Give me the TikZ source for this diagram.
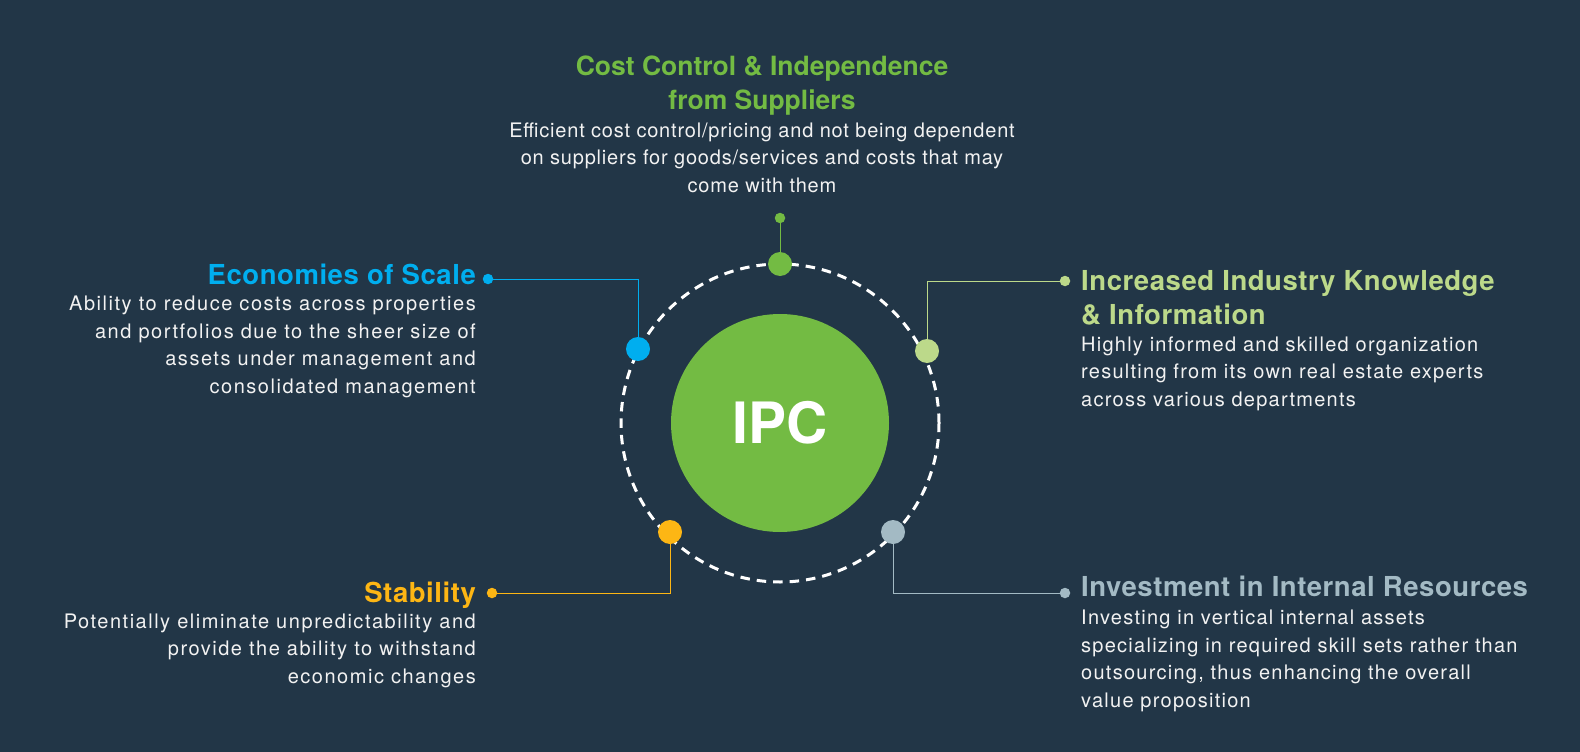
\documentclass[tikz,border=0pt]{standalone}
\usepackage{fontspec}
\setmainfont{TeX Gyre Heros}
\newfontfamily\bodyfont[LetterSpace=6.3]{TeX Gyre Heros}
\newfontfamily\leftfont[LetterSpace=7.6]{TeX Gyre Heros}
\newfontfamily\topfont[LetterSpace=4]{TeX Gyre Heros}
\newfontfamily\headfont[LetterSpace=2]{TeX Gyre Heros}
\usepackage{tikz}
\definecolor{bg}{HTML}{223647}
\definecolor{ipcgreen}{HTML}{73BB43}
\definecolor{ipcblue}{HTML}{00AEEF}
\definecolor{ipclime}{HTML}{BCD98A}
\definecolor{ipcyellow}{HTML}{FDB614}
\definecolor{ipcgrey}{HTML}{A3BAC4}
\definecolor{bodywhite}{HTML}{F2F2F2}

\begin{document}
\begin{tikzpicture}[x=1pt,y=-1pt,
    dot_node/.style={circle,fill=#1,minimum size=24pt,inner sep=0pt},
    pin_node/.style={circle,fill=#1,minimum size=10.5pt,inner sep=0pt},
    link/.style={draw=#1,line width=1pt},
    head_text/.style={text=#1,font=\headfont\fontsize{27.5}{34}\selectfont\bfseries,inner sep=0pt},
    body_text/.style={text=bodywhite,font=\bodyfont\fontsize{20}{27.4}\selectfont,inner sep=0pt},
    left_text/.style={body_text,font=\leftfont\fontsize{20}{27.4}\selectfont}]
    \useasboundingbox (0,0) rectangle (1580,752);
    \fill[bg] (0,0) rectangle (1580,752);
    \node[circle,fill=ipcgreen,minimum size=218pt,inner sep=0pt,text=white,font=\fontsize{57}{57}\selectfont\bfseries] (hub) at (780,423) {IPC};
    \draw[white,line width=3pt,dash pattern=on 9.5pt off 7pt] (hub.center) circle (159pt);

    \node[dot_node=ipcgreen] (1) at (780,264) {};
    \node[dot_node=ipcblue] (2) at (638,349) {};
    \node[dot_node=ipclime] (3) at (927,351) {};
    \node[dot_node=ipcyellow] (4) at (670,532) {};
    \node[dot_node=ipcgrey] (5) at (893,532) {};

    \node[pin_node=ipcgreen] (1p) at (780,218) {};
    \node[pin_node=ipcblue] (2p) at (488,279) {};
    \node[pin_node=ipclime] (3p) at (1065,281) {};
    \node[pin_node=ipcyellow] (4p) at (492,593) {};
    \node[pin_node=ipcgrey] (5p) at (1065,593) {};

    \draw[link=ipcgreen] (1p) -- (1);
    \draw[link=ipcblue] (2) |- (2p);
    \draw[link=ipclime] (3) |- (3p);
    \draw[link=ipcyellow] (4) |- (4p);
    \draw[link=ipcgrey] (5) |- (5p);

    % multi-line nodes sit on the baseline of their last line
    \node[head_text=ipcgreen,font=\fontsize{26.5}{34}\selectfont\bfseries,anchor=base,align=center] (t1) at (762,109) {Cost Control \& Independence\\from Suppliers};
    \node[body_text,font=\topfont\fontsize{20}{27.4}\selectfont,anchor=base,align=center] (b1) at (762,192) {Efficient cost control/pricing and not being dependent\\on suppliers for goods/services and costs that may\\come with them};
    \node[head_text=ipcblue,anchor=base east] (t2) at (476,284) {Economies of Scale};
    \node[left_text,anchor=base east,align=right] (b2) at (476,393) {Ability to reduce costs across properties\\and portfolios due to the sheer size of\\assets under management and\\consolidated management};
    \node[head_text=ipclime,anchor=base west,align=left] (t3) at (1081,324) {Increased Industry Knowledge\\\& Information};
    \node[body_text,anchor=base west,align=left] (b3) at (1081,406) {Highly informed and skilled organization\\resulting from its own real estate experts\\across various departments};
    \node[head_text=ipcyellow,anchor=base east] (t4) at (476,602) {Stability};
    \node[left_text,anchor=base east,align=right] (b4) at (476,683) {Potentially eliminate unpredictability and\\provide the ability to withstand\\economic changes};
    \node[head_text=ipcgrey,anchor=base west] (t5) at (1081,596) {Investment in Internal Resources};
    \node[body_text,anchor=base west,align=left] (b5) at (1081,707) {Investing in vertical internal assets\\specializing in required skill sets rather than\\outsourcing, thus enhancing the overall\\value proposition};
\end{tikzpicture}
\end{document}
